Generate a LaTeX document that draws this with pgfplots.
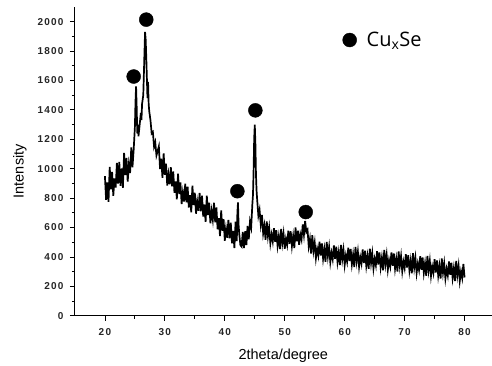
\documentclass[border=0pt]{standalone}
\usepackage{pgfplots}
\pgfplotsset{compat=1.18}
\usepackage{fontspec}
\setmainfont{Liberation Sans}
\newfontfamily\legfont{Open Sans}
\newfontfamily\tickfont[LetterSpace=12]{Liberation Sans}
\begin{document}
\begin{tikzpicture}[x=1pt,y=1pt]
\begin{axis}[
  at={(0pt,0pt)}, anchor=south west,
  scale only axis, width=417pt, height=309pt,
  xmin=15, xmax=84.5, ymin=0, ymax=2100,
  axis lines*=left,
  axis line style={line width=0.9pt},
  tick align=outside,
  xtick={20,30,...,80}, ytick={0,200,...,2000},
  minor x tick num=1, minor y tick num=1,
  major tick length=5pt, minor tick length=3pt,
  tick style={line width=0.8pt, black},
  /pgf/number format/assume math mode=true,
  /pgf/number format/set thousands separator={},
  tick label style={font=\tickfont\fontsize{10}{12}\selectfont\bfseries, text=black!85},
  xticklabel style={yshift=-4pt},
  yticklabel style={xshift=-3pt},
  xlabel={2theta/degree}, ylabel={Intensity},
  label style={font=\fontsize{14.5}{17}\selectfont},
  xlabel style={at={(0.5,-0.129)}, anchor=center},
  ylabel style={at={(-0.132,0.468)}, anchor=center},
  clip=false,
  legend style={draw=none, fill=none, at={(0.635,0.893)}, anchor=west, font=\legfont\fontsize{20}{24}\selectfont},
  legend cell align=left,
]
\addplot[black, line width=1.7pt, line join=miter, forget plot] coordinates {
(20.0,950)(20.2,788)(20.4,906)(20.6,774)(20.8,1012)(21.0,860)(21.2,978)(21.4,816)(21.6,934)(21.8,872)
(22.0,1040)(22.2,898)(22.4,1046)(22.6,884)(22.8,1002)(23.0,870)(23.2,1108)(23.4,956)(23.6,1074)(23.8,912)
(24.0,1030)(24.2,970)(24.4,1145)(24.6,1010)(24.8,1130)(25.0,1280)(25.1,1450)(25.2,1560)(25.3,1420)(25.4,1240)
(25.5,1300)(25.6,1220)(25.8,1300)(26.0,1380)(26.1,1330)(26.2,1440)(26.4,1500)(26.5,1640)(26.6,1790)(26.7,1930)
(26.8,1880)(26.9,1760)(27.0,1620)(27.1,1480)(27.2,1590)(27.3,1440)(27.4,1390)(27.6,1330)(27.8,1240)(28.0,1250)
(28.2,1150)(28.4,1180)(28.6,1090)(28.8,1120)
(29.0,1152)(29.2,998)(29.4,1068)(29.6,938)(29.8,1104)(30.0,958)(30.2,1034)(30.4,886)(30.6,962)(30.8,894)
(31.0,1010)(31.2,880)(31.4,982)(31.6,836)(31.8,914)(32.0,792)(32.2,966)(32.4,828)(32.6,906)(32.8,760)
(33.0,838)(33.2,776)(33.4,898)(33.6,772)(33.8,878)(34.0,736)(34.2,820)(34.4,704)(34.6,884)(34.8,752)
(35.0,836)(35.2,694)(35.4,776)(35.6,714)(35.8,836)(36.0,710)(36.2,816)(36.4,674)(36.6,756)(36.8,638)
(37.0,816)(37.2,684)(37.4,768)(37.6,628)(37.8,712)(38.0,652)(38.2,768)(38.4,636)(38.6,736)(38.8,588)
(39.0,664)(39.2,542)(39.4,716)(39.6,578)(39.8,656)(40.0,510)(40.2,592)(40.4,530)(40.6,652)(40.8,526)
(41.0,632)(41.2,492)(41.4,576)(41.6,460)(41.8,640)(42.0,508)(42.1,700)(42.2,770)(42.3,620)(42.4,560)
(42.6,480)(42.8,470)(43.0,570)(43.2,460)(43.4,575)(43.6,480)(43.8,610)(44.0,520)(44.2,640)(44.4,600)
(44.6,760)(44.7,820)(44.8,980)(44.9,1200)(45.0,1300)(45.1,1180)(45.2,960)(45.3,850)(45.4,790)(45.6,680)
(45.8,720)(46.0,620)
(46.2,686)(46.4,560)(46.6,612)(46.8,516)(47.0,642)(47.2,540)(47.4,600)(47.6,492)(47.8,552)(48.0,504)
(48.2,596)(48.4,502)(48.6,582)(48.8,476)(49.0,538)(49.2,453)(49.4,590)(49.6,493)(49.8,558)(50.0,455)
(50.2,522)(50.4,481)(50.6,578)(50.8,489)(51.0,574)(51.2,474)(51.4,542)(51.6,460)(51.8,600)(52.0,506)
(52.2,578)(52.4,482)(52.6,554)(52.8,518)(53.0,620)(53.2,550)(53.4,645)(53.6,570)(53.8,585)(54.0,472)
(54.2,522)(54.4,422)(54.6,547)(54.8,441)(55.0,497)(55.2,392)(55.4,455)(55.6,410)(55.8,503)(56.0,410)
(56.2,492)(56.4,388)(56.6,452)(56.8,366)(57.0,502)(57.2,404)(57.4,468)(57.6,364)(57.8,428)(58.0,384)
(58.2,478)(58.4,387)(58.6,469)(58.8,366)(59.0,430)(59.2,345)(59.4,481)(59.6,384)(59.8,448)(60.0,345)
(60.2,410)(60.4,367)(60.6,462)(60.8,371)(61.0,454)(61.2,351)(61.4,416)(61.6,331)(61.8,468)(62.0,371)
(62.2,436)(62.4,333)(62.6,398)(62.8,355)(63.0,450)(63.2,359)(63.4,442)(63.6,339)(63.8,404)(64.0,319)
(64.2,456)(64.4,359)(64.6,424)(64.8,321)(65.0,386)(65.2,343)(65.4,439)(65.6,348)(65.8,431)(66.0,329)
(66.2,394)(66.4,309)(66.6,447)(66.8,350)(67.0,415)(67.2,313)(67.4,378)(67.6,335)(67.8,431)(68.0,340)
(68.2,423)(68.4,320)(68.6,385)(68.8,300)(69.0,437)(69.2,340)(69.4,405)(69.6,302)(69.8,367)(70.0,324)
(70.2,419)(70.4,328)(70.6,411)(70.8,308)(71.0,373)(71.2,288)(71.4,425)(71.6,328)(71.8,393)(72.0,290)
(72.2,354)(72.4,311)(72.6,405)(72.8,313)(73.0,396)(73.2,292)(73.4,356)(73.6,271)(73.8,407)(74.0,309)
(74.2,374)(74.4,270)(74.6,334)(74.8,291)(75.0,385)(75.2,294)(75.4,376)(75.6,273)(75.8,338)(76.0,252)
(76.2,389)(76.4,292)(76.6,356)(76.8,253)(77.0,318)(77.2,274)(77.4,369)(77.6,278)(77.8,360)(78.0,257)
(78.2,322)(78.4,236)(78.6,373)(78.8,275)(79.0,340)(79.2,236)(79.4,301)(79.6,257)(79.8,352)(80.0,260)
};
\addplot[only marks, mark=*, mark size=7pt, black, mark options={fill=black}] coordinates {
(24.8,1627)(26.9,2014)(42.1,847)(45.1,1397)(53.5,705)
};
\addlegendentry{\hspace*{8pt}Cu\textsubscript{x}Se}
\end{axis}
\useasboundingbox (-75pt,-49pt) rectangle (417pt,316pt);
\end{tikzpicture}
\end{document}
